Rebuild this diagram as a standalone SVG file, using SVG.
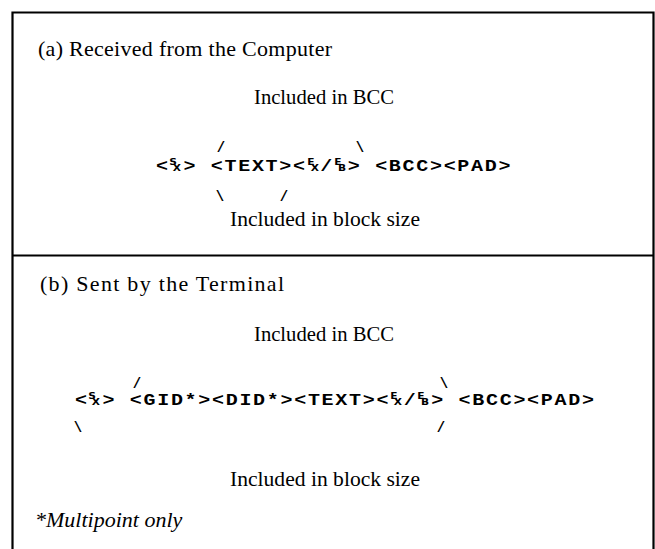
<svg xmlns="http://www.w3.org/2000/svg" width="655" height="549" viewBox="0 0 655 549">
<style>
.frame{stroke:#000;stroke-width:2.2;fill:none}
.lbl{font-family:"Liberation Serif","Times New Roman",serif;font-size:22px;fill:#000}
.ital{font-family:"Liberation Serif","Times New Roman",serif;font-size:22px;font-style:italic;fill:#000}
.code{font-family:"Liberation Mono","DejaVu Sans Mono",monospace;font-size:16px;font-weight:bold;letter-spacing:1.36px;fill:#000;white-space:pre}
.cc{font-family:"DejaVu Sans","Liberation Sans",sans-serif;font-size:8.5px;font-weight:bold;letter-spacing:0}
.sl{font-family:"Liberation Mono","DejaVu Sans Mono",monospace;font-size:14px;font-weight:bold;fill:#000;text-anchor:middle}
.mid{text-anchor:middle}
</style>
<g id="frame">
<path class="frame" d="M12.5,549 V12.5 H653.5 V549"/>
<line class="frame" x1="12" y1="255.5" x2="654" y2="255.5"/>
</g>
<g id="panel-a">
<text class="lbl" x="38" y="56" textLength="294" lengthAdjust="spacing">(a)  Received from the Computer</text>
<text class="lbl mid" x="324" y="104" textLength="140" lengthAdjust="spacingAndGlyphs">Included in BCC</text>
<g transform="translate(156,171) scale(1.25,1)">
<text class="code" x="0" y="0" xml:space="preserve"><tspan x="0">&lt;</tspan><tspan class="cc" x="10.6" dy="-6">S</tspan><tspan class="cc" x="13.4" dy="6">X</tspan><tspan x="21.92">&gt; &lt;TEXT&gt;&lt;</tspan><tspan class="cc" x="121" dy="-6">E</tspan><tspan class="cc" x="123.8" dy="6">X</tspan><tspan x="131.5">/</tspan><tspan class="cc" x="142.6" dy="-6">E</tspan><tspan class="cc" x="145.6" dy="6">B</tspan><tspan x="153.4">&gt; &lt;BCC&gt;&lt;PAD&gt;</tspan></text>
</g>
<text class="lbl mid" x="325" y="226" textLength="190" lengthAdjust="spacingAndGlyphs">Included in block size</text>
</g>
<g id="connectors">
<text class="sl" x="221" y="152">/</text>
<text class="sl" x="360" y="152">\</text>
<text class="sl" x="220" y="201">\</text>
<text class="sl" x="284" y="201">/</text>
<text class="sl" x="137" y="388">/</text>
<text class="sl" x="444" y="388">\</text>
<text class="sl" x="78" y="432">\</text>
<text class="sl" x="441" y="432">/</text>
</g>
<g id="panel-b">
<text class="lbl" x="40" y="291" textLength="244" lengthAdjust="spacing">(b)  Sent by the Terminal</text>
<text class="lbl mid" x="324" y="341" textLength="140" lengthAdjust="spacingAndGlyphs">Included in BCC</text>
<g transform="translate(75,405) scale(1.25,1)">
<text class="code" x="0" y="0" xml:space="preserve"><tspan x="0">&lt;</tspan><tspan class="cc" x="10.6" dy="-6">S</tspan><tspan class="cc" x="13.4" dy="6">X</tspan><tspan x="21.92">&gt; &lt;GID*&gt;&lt;DID*&gt;&lt;TEXT&gt;&lt;</tspan><tspan class="cc" x="252.2" dy="-6">E</tspan><tspan class="cc" x="255" dy="6">X</tspan><tspan x="263">/</tspan><tspan class="cc" x="273.8" dy="-6">E</tspan><tspan class="cc" x="276.8" dy="6">B</tspan><tspan x="284.96">&gt; &lt;BCC&gt;&lt;PAD&gt;</tspan></text>
</g>
<text class="lbl mid" x="325" y="486" textLength="190" lengthAdjust="spacingAndGlyphs">Included in block size</text>
<text class="ital" x="35" y="527">*Multipoint only</text>
</g>
</svg>
